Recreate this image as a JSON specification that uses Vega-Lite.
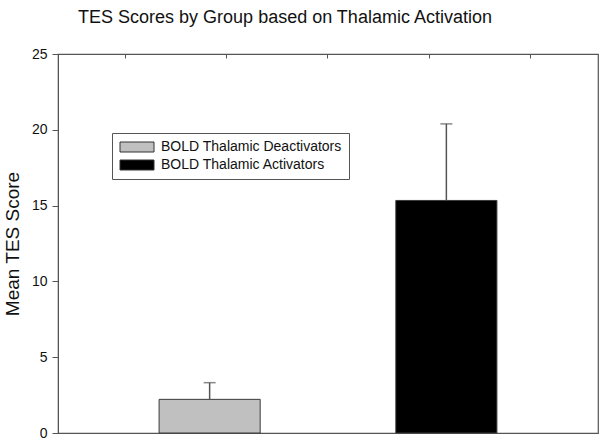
{
  "$schema": "https://vega.github.io/schema/vega-lite/v6.json",
  "width": 540,
  "height": 379,
  "autosize": "none",
  "padding": {"left": 58, "top": 54, "right": 3, "bottom": 6},
  "background": "white",
  "config": {
    "font": "Liberation Sans",
    "view": {"stroke": "#555555", "strokeWidth": 1.2},
    "axis": {"grid": false}
  },
  "title": {
    "text": "TES Scores by Group based on Thalamic Activation",
    "fontSize": 18,
    "fontWeight": "normal",
    "font": "Liberation Sans",
    "color": "#111111",
    "anchor": "middle",
    "frame": "group",
    "dx": -43,
    "offset": 6,
    "baseline": "alphabetic"
  },
  "data": {
    "values": [
      {"group": "BOLD Thalamic Deactivators", "mean": 2.22, "upper": 3.32},
      {"group": "BOLD Thalamic Activators", "mean": 15.34, "upper": 20.39}
    ]
  },
  "layer": [
    {
      "encoding": {
        "x": {
          "field": "group",
          "type": "nominal",
          "sort": null,
          "scale": {"paddingInner": 0.573, "paddingOuter": 0.427},
          "axis": null
        }
      },
      "layer": [
        {
          "mark": {"type": "bar", "stroke": "#3a3a3a", "strokeWidth": 1},
          "encoding": {
            "y": {
              "field": "mean",
              "type": "quantitative",
              "scale": {"domain": [0, 25], "nice": false},
              "axis": {
                "values": [0, 5, 10, 15, 20, 25],
                "tickSize": 6,
                "tickColor": "#555555",
                "domainColor": "#555555",
                "labelFontSize": 14,
                "labelColor": "#111111",
                "labelPadding": 5,
                "titleFontSize": 19,
                "titleFontWeight": "normal",
                "titleColor": "#111111",
                "titlePadding": 9
              },
              "title": "Mean TES Score"
            },
            "color": {
              "field": "group",
              "type": "nominal",
              "sort": null,
              "scale": {
                "domain": ["BOLD Thalamic Deactivators", "BOLD Thalamic Activators"],
                "range": ["#c0c0c0", "#000000"]
              },
              "legend": {
                "orient": "none",
                "legendX": 54,
                "legendY": 79,
                "title": null,
                "strokeColor": "#555555",
                "fillColor": "white",
                "padding": 7,
                "symbolType": "M-3.4,-1H3.4V1H-3.4Z",
                "symbolSize": 100,
                "symbolOffset": 11,
                "symbolStrokeColor": "#333333",
                "symbolStrokeWidth": 1,
                "labelFontSize": 14,
                "labelLimit": 400,
                "labelFont": "Liberation Sans",
                "labelColor": "#111111",
                "rowPadding": 4,
                "labelOffset": 17
              }
            }
          }
        },
        {
          "mark": {"type": "rule", "color": "#555555", "strokeWidth": 1.5},
          "encoding": {
            "y": {"field": "mean", "type": "quantitative"},
            "y2": {"field": "upper"}
          }
        },
        {
          "mark": {"type": "tick", "color": "#555555", "thickness": 1.5, "size": 12},
          "encoding": {
            "y": {"field": "upper", "type": "quantitative"}
          }
        }
      ]
    },
    {
      "mark": {"type": "point", "opacity": 0},
      "encoding": {
        "x": {
          "field": "mean",
          "type": "quantitative",
          "scale": {"domain": [-0.662, 4.672], "nice": false, "zero": false},
          "axis": {
            "orient": "top",
            "values": [0, 1, 2, 3, 4],
            "labels": false,
            "domain": false,
            "tickSize": -4,
            "tickColor": "#555555",
            "title": null
          }
        },
        "y": {"field": "mean", "type": "quantitative"}
      }
    }
  ],
  "resolve": {"scale": {"x": "independent"}, "axis": {"x": "independent"}}
}
